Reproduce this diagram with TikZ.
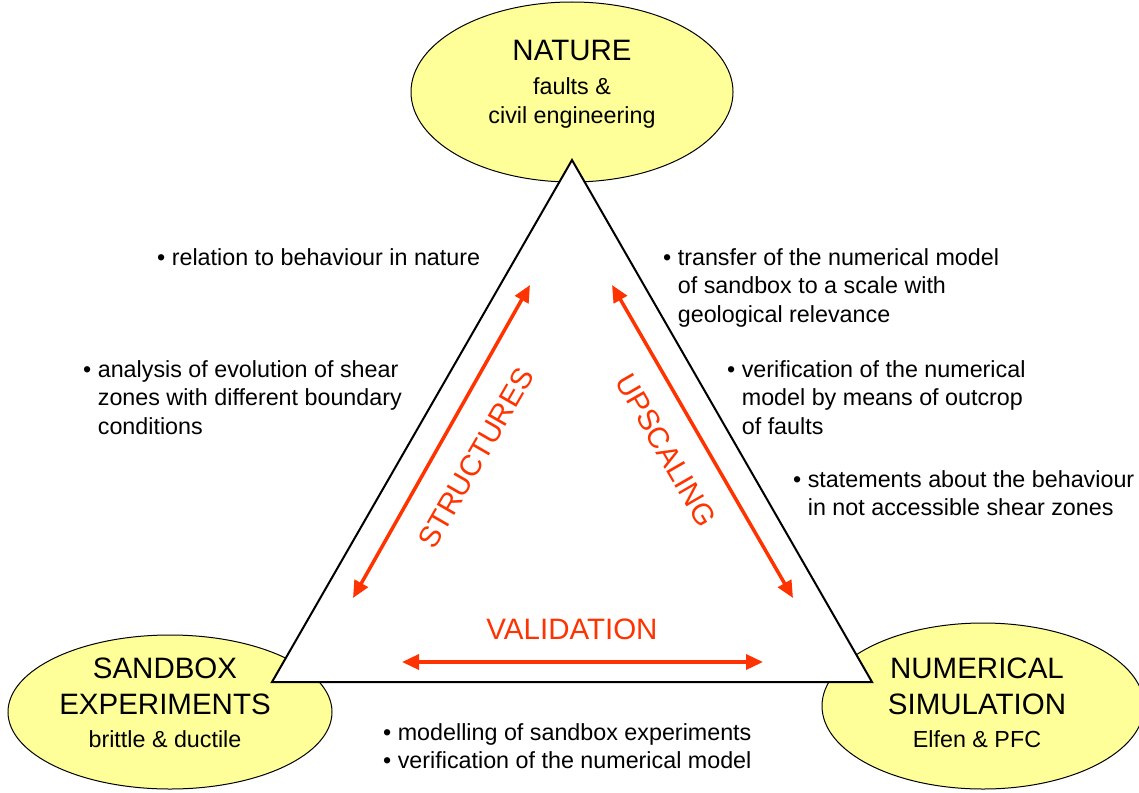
\documentclass[tikz,border=0pt]{standalone}
\usepackage{fontspec}
\setmainfont{Liberation Sans}
\usepackage{xcolor}
\usetikzlibrary{shapes.geometric,arrows.meta}

\definecolor{paleyellow}{HTML}{FFFF99}
\definecolor{vermil}{HTML}{FF3300}
\newcommand\bigsz{\fontsize{29.5}{36}\selectfont}
\newcommand\smallsz{\fontsize{23.3}{28.5}\selectfont}
\newenvironment{blist}{\begin{tabular}{@{}l@{\hspace{6.5pt}}l@{}}}{\end{tabular}}

\begin{document}
\begin{tikzpicture}[
  x=1pt, y=-1pt,
  shell/.style = {draw, ellipse, fill=paleyellow, line width=1pt, inner sep=0pt},
  title/.style = {align=center, inner sep=0pt, font=\smallsz},
  note/.style  = {anchor=west, inner sep=0pt, font=\smallsz},
  redar/.style = {draw=vermil, line width=3.5pt,
                  {Triangle[length=17pt,width=15pt]}-{Triangle[length=17pt,width=15pt]}},
  redlbl/.style= {text=vermil, font=\bigsz, inner sep=0pt},
]
\useasboundingbox (0,0) rectangle (1139,792);

%% --- the three corners ---
\node[shell, minimum width=322, minimum height=180] (nature)  at (572,92)  {};
\node[shell, minimum width=324, minimum height=154] (sandbox) at (170,712) {};
\node[shell, minimum width=322, minimum height=166] (numsim)  at (983,706) {};

%% --- the triangle on top ---
\coordinate (top)   at (572,160);
\coordinate (left)  at (272,682);
\coordinate (right) at (872,682);
\draw[line width=2pt, fill=white, line join=miter] (top) -- (left) -- (right) -- cycle;

%% --- corner titles ---
\node[title] (naturetxt) at (572,84)
  {{\bigsz NATURE}\\[5.5pt] faults \&\\[0.5pt] civil engineering};
\node[title] (sandboxtxt) at (165,703)
  {{\bigsz SANDBOX}\\[7.5pt]{\bigsz EXPERIMENTS}\\[4.5pt] brittle \& ductile};
\node[title] (numsimtxt) at (977,703)
  {{\bigsz NUMERICAL}\\[7.5pt]{\bigsz SIMULATION}\\[4.5pt] Elfen \& PFC};

%% --- red arrows and their labels ---
\coordinate (sa) at (353,598);
\coordinate (sb) at (530,285);
\coordinate (ua) at (612,285);
\coordinate (ub) at (793,598);
\coordinate (va) at (402,662);
\coordinate (vb) at (763,662);
\draw[redar] (sa) -- (sb);
\draw[redar] (ua) -- (ub);
\draw[redar] (va) -- (vb);

\node[redlbl, rotate=60]  (structures) at (476,458) {STRUCTURES};
\node[redlbl, rotate=-60] (upscaling)  at (666,450) {UPSCALING};
\node[redlbl]             (validation) at (572,629) {VALIDATION};

%% --- notes ---
\node[note] (relation) at (157,260)
  {\begin{blist}\textbullet & relation to behaviour in nature\end{blist}};
\node[note] (analysis) at (83,400)
  {\begin{blist}\textbullet & analysis of evolution of shear\\
   & zones with different boundary\\ & conditions\end{blist}};
\node[note] (transfer) at (663,288)
  {\begin{blist}\textbullet & transfer of the numerical model\\
   & of sandbox to a scale with\\ & geological relevance\end{blist}};
\node[note] (verif) at (727,400)
  {\begin{blist}\textbullet & verification of the numerical\\
   & model by means of outcrop\\ & of faults\end{blist}};
\node[note] (statements) at (793,496)
  {\begin{blist}\textbullet & statements about the behaviour\\
   & in not accessible shear zones\end{blist}};
\node[note] (modelling) at (383,749)
  {\begin{blist}\textbullet & modelling of sandbox experiments\\
   \textbullet & verification of the numerical model\end{blist}};
\end{tikzpicture}
\end{document}
